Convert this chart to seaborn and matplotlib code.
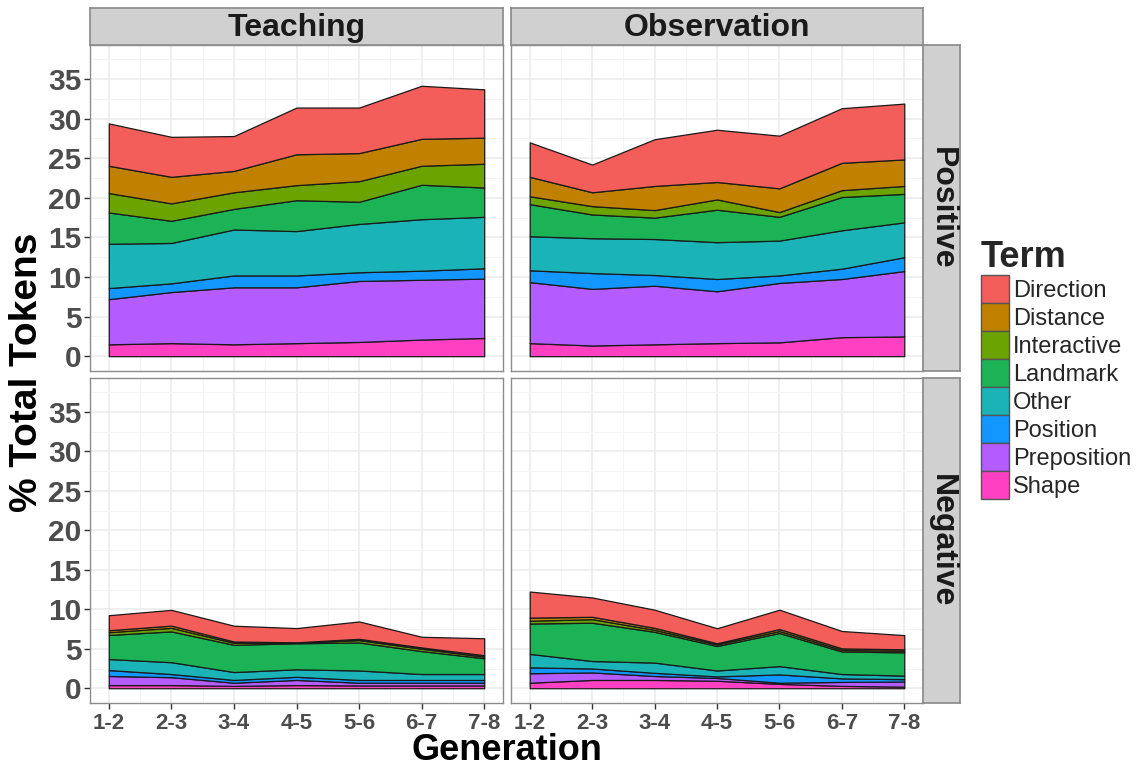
import numpy as np
import seaborn as sns
import matplotlib.pyplot as plt
from matplotlib.patches import Patch

# x categories and the stacked terms (top of the stack first)
generations = ["1-2", "2-3", "3-4", "4-5", "5-6", "6-7", "7-8"]
terms = ["Direction", "Distance", "Interactive", "Landmark",
         "Other", "Position", "Preposition", "Shape"]
term_colors = ["#F35E5A", "#C08100", "#6BA300", "#1BB356",
               "#1AB3B8", "#1296FF", "#B45CFF", "#FF40C2"]

# % of total tokens per term, one row per term (same order as terms)
teach_pos = [
    [5.35, 5.05, 4.4, 5.9, 5.75, 6.7, 6.1],
    [3.45, 3.35, 2.7, 3.9, 3.55, 3.4, 3.3],
    [2.45, 2.2, 2.1, 1.9, 2.6, 2.4, 3.0],
    [3.95, 2.8, 2.6, 3.9, 2.8, 4.35, 3.7],
    [5.6, 5.1, 5.8, 5.6, 6.1, 6.5, 6.5],
    [1.4, 1.1, 1.5, 1.5, 1.1, 1.15, 1.3],
    [5.7, 6.45, 7.2, 7.05, 7.7, 7.55, 7.5],
    [1.5, 1.65, 1.5, 1.65, 1.8, 2.1, 2.3],
]
obs_pos = [
    [4.35, 3.5, 5.9, 6.6, 6.65, 6.9, 7.05],
    [2.45, 1.75, 3.05, 2.2, 3.0, 3.45, 3.35],
    [1.0, 1.05, 0.95, 1.3, 0.6, 0.87, 1.0],
    [4.05, 3.0, 2.7, 4.1, 3.0, 4.2, 3.6],
    [4.3, 4.4, 4.55, 4.65, 4.4, 4.85, 4.4],
    [1.5, 2.0, 1.35, 1.55, 0.95, 1.3, 1.75],
    [7.7, 7.15, 7.4, 6.55, 7.5, 7.35, 8.25],
    [1.65, 1.35, 1.5, 1.65, 1.75, 2.4, 2.5],
]
teach_neg = [
    [1.9, 2.0, 2.0, 1.8, 2.2, 1.35, 2.15],
    [0.25, 0.28, 0.17, 0.05, 0.16, 0.17, 0.18],
    [0.35, 0.45, 0.25, 0.07, 0.3, 0.3, 0.2],
    [3.05, 3.9, 3.45, 3.3, 3.55, 2.9, 2.0],
    [1.4, 1.5, 1.0, 0.95, 1.2, 0.75, 0.75],
    [0.75, 0.4, 0.35, 0.4, 0.35, 0.35, 0.35],
    [1.15, 1.0, 0.4, 0.65, 0.35, 0.35, 0.35],
    [0.4, 0.4, 0.3, 0.4, 0.35, 0.35, 0.35],
]
obs_neg = [
    [3.3, 2.45, 2.3, 1.9, 2.45, 2.2, 1.8],
    [0.4, 0.3, 0.25, 0.15, 0.25, 0.2, 0.18],
    [0.35, 0.45, 0.25, 0.2, 0.25, 0.2, 0.2],
    [3.85, 4.85, 3.9, 3.1, 4.2, 2.85, 2.95],
    [1.7, 0.95, 1.3, 0.75, 1.05, 0.55, 0.45],
    [0.75, 0.5, 0.4, 0.2, 1.05, 0.45, 0.3],
    [1.2, 0.95, 0.5, 0.35, 0.15, 0.5, 0.65],
    [0.7, 1.05, 1.05, 0.95, 0.55, 0.3, 0.2],
]

col_names = ["Teaching", "Observation"]
row_names = ["Positive", "Negative"]
panels = {
    ("Positive", "Teaching"): teach_pos,
    ("Positive", "Observation"): obs_pos,
    ("Negative", "Teaching"): teach_neg,
    ("Negative", "Observation"): obs_neg,
}

sns.set_theme(style="whitegrid")
plt.rcParams['font.family'] = ['Liberation Sans', 'DejaVu Sans']

W, H = 1148, 766
fig = plt.figure(figsize=(W / 100, H / 100), dpi=100)


def box(x0, y0, x1, y1):
    # pixel box (top-left origin) -> figure fraction rect
    return [x0 / W, 1 - y1 / H, (x1 - x0) / W, (y1 - y0) / H]


col_px = [(90, 503), (511, 923)]
row_px = [(45, 371), (378, 703)]
border = "#8C8C8C"
x = np.arange(len(generations))

for r, rname in enumerate(row_names):
    for c, cname in enumerate(col_names):
        ax = fig.add_axes(box(col_px[c][0], row_px[r][0], col_px[c][1], row_px[r][1]))
        ax.set_facecolor("white")
        vals = panels[(rname, cname)]
        ax.stackplot(x, vals[::-1], colors=term_colors[::-1],
                     edgecolor="#1a1a1a", linewidth=0.9)
        ax.set_xlim(-0.3, 6.3)
        ax.set_ylim(-1.87, 39.3)
        ax.set_xticks(x)
        ax.set_xticks(x[:-1] + 0.5, minor=True)
        ax.set_yticks(np.arange(0, 36, 5))
        ax.set_yticks(np.arange(2.5, 39, 5), minor=True)
        ax.set_axisbelow(True)
        ax.grid(which="major", color="#EBEBEB", linewidth=1.1)
        ax.grid(which="minor", color="#F3F3F3", linewidth=0.6)
        for sp in ax.spines.values():
            sp.set_visible(True)
            sp.set_color(border)
            sp.set_linewidth(1.0)
        ax.tick_params(which="minor", length=0)
        ax.tick_params(which="major", length=4, width=1, color="#333333",
                       labelcolor="#4D4D4D", pad=2)
        ax.tick_params(axis="y", left=(c == 0), labelleft=(c == 0),
                       labelsize=21.5)
        ax.tick_params(axis="x", bottom=(r == 1), labelbottom=(r == 1),
                       labelsize=16, pad=3)
        if r == 1:
            ax.set_xticklabels(generations, fontweight="bold")
        else:
            ax.set_xticklabels([])
        if c == 0:
            ax.set_yticklabels([str(v) for v in range(0, 36, 5)], fontweight="bold")
        else:
            ax.set_yticklabels([])
        ax.set_xlabel("")
        ax.set_ylabel("")

# facet strips
for c, cname in enumerate(col_names):
    s = fig.add_axes(box(col_px[c][0], 8, col_px[c][1], 45))
    s.set_facecolor("#D0D0D0")
    s.set_xticks([])
    s.set_yticks([])
    s.grid(False)
    for sp in s.spines.values():
        sp.set_color(border)
    s.text(0.5, 0.45, cname, ha="center", va="center", fontsize=23,
           fontweight="bold", color="#1A1A1A", transform=s.transAxes)

for r, rname in enumerate(row_names):
    s = fig.add_axes(box(923, row_px[r][0], 960, row_px[r][1]))
    s.set_facecolor("#D0D0D0")
    s.set_xticks([])
    s.set_yticks([])
    s.grid(False)
    for sp in s.spines.values():
        sp.set_color(border)
    s.text(0.5, 0.5, rname, ha="center", va="center", rotation=270,
           fontsize=23, fontweight="bold", color="#1A1A1A",
           transform=s.transAxes)

# axis titles
fig.text(27 / W, 1 - 372 / H, "% Total Tokens", rotation=90, ha="center",
         va="center", fontsize=28, fontweight="bold", color="black")
fig.text(507 / W, 1 - 750 / H, "Generation", ha="center", va="center",
         fontsize=26, fontweight="bold", color="black")

# legend
handles = [Patch(facecolor=col, edgecolor="#555555", linewidth=1.0)
           for col in term_colors]
fig.legend(handles, terms, title="Term", loc="upper left",
           bbox_to_anchor=(981 / W, 1 - 240 / H), frameon=False,
           fontsize=17, title_fontproperties={"weight": "bold", "size": 26},
           handlelength=1.2, handleheight=1.45, handletextpad=0.15,
           labelspacing=0, borderpad=0, borderaxespad=0, alignment="left")

fig.savefig("out.png", dpi=100)
